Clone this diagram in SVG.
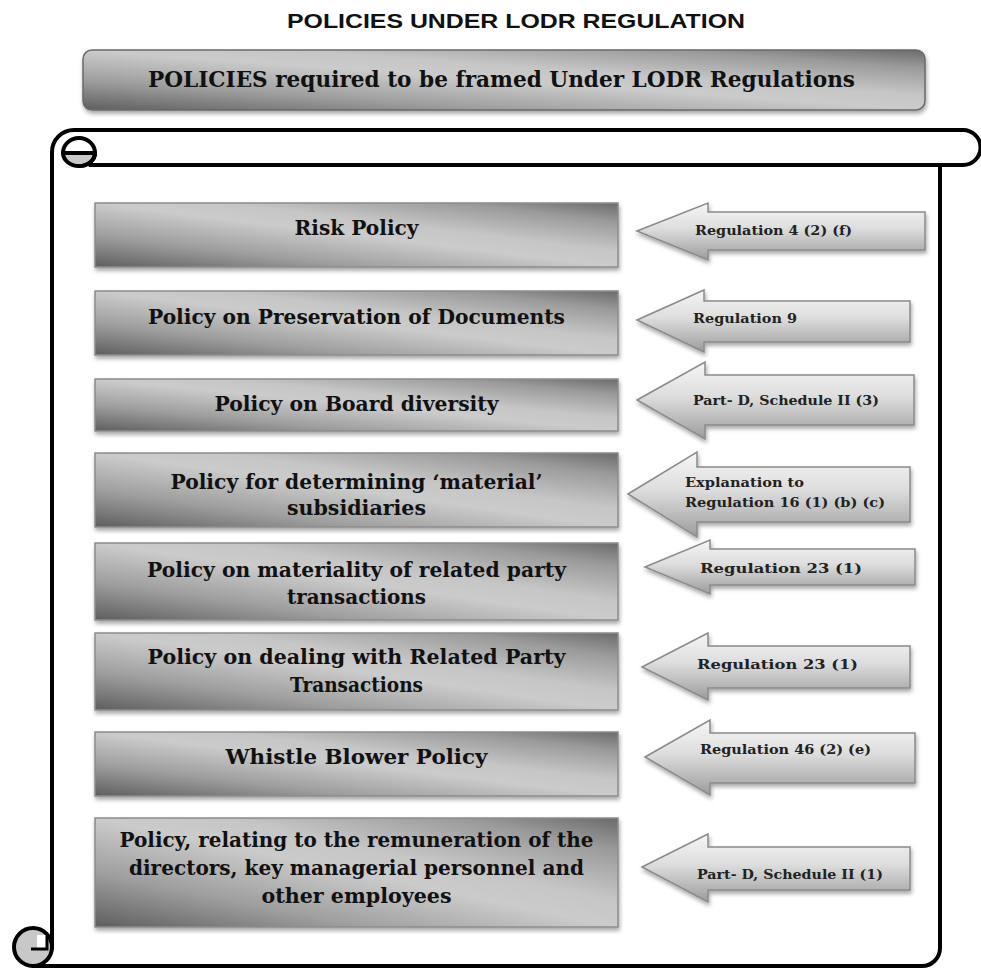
<svg xmlns="http://www.w3.org/2000/svg" width="981" height="972" viewBox="0 0 981 972">
<defs>
  <linearGradient id="boxGrad" x1="0" y1="1" x2="1" y2="0">
    <stop offset="0" stop-color="#5e5e5e"/>
    <stop offset="0.25" stop-color="#9e9e9e"/>
    <stop offset="0.5" stop-color="#cbcbcb"/>
    <stop offset="0.62" stop-color="#c6c6c6"/>
    <stop offset="0.85" stop-color="#9a9a9a"/>
    <stop offset="1" stop-color="#6a6a6a"/>
  </linearGradient>
  <linearGradient id="arrowGrad" x1="0" y1="0" x2="0" y2="1">
    <stop offset="0" stop-color="#f6f6f6"/>
    <stop offset="0.45" stop-color="#dddddd"/>
    <stop offset="1" stop-color="#9c9c9c"/>
  </linearGradient>
  <filter id="shadow" x="-5%" y="-10%" width="110%" height="130%">
    <feDropShadow dx="1" dy="3" stdDeviation="2" flood-color="#000" flood-opacity="0.35"/>
  </filter>
</defs>
<style>
  .title { font-family: "Liberation Sans", Arial, sans-serif; font-weight: bold; font-size: 20px; fill: #111; }
  .hdr { font-family: "DejaVu Serif", "Liberation Serif", serif; font-weight: bold; font-size: 23px; fill: #111; }
  .box { fill: url(#boxGrad); stroke: #8c8c8c; stroke-width: 1.5; filter: url(#shadow); }
  .btxt { font-family: "DejaVu Serif", "Liberation Serif", serif; font-weight: bold; font-size: 20px; fill: #111; text-anchor: middle; }
  .arrow { fill: url(#arrowGrad); stroke: #8a8a8a; stroke-width: 1.5; filter: url(#shadow); }
  .atxt { font-family: "DejaVu Serif", "Liberation Serif", serif; font-weight: bold; font-size: 13px; fill: #222; }
  .scroll { fill: none; stroke: #000; stroke-width: 4; stroke-linejoin: round; stroke-linecap: round; }
</style>

<rect x="0" y="0" width="981" height="972" fill="#ffffff"/>

<text class="title" x="287" y="28" textLength="458" lengthAdjust="spacingAndGlyphs">POLICIES UNDER LODR REGULATION</text>

<g id="header">
  <rect x="83" y="50" width="842" height="60" rx="9" fill="url(#boxGrad)" stroke="#6a6a6a" stroke-width="1.5" filter="url(#shadow)"/>
  <text class="hdr" x="148" y="87" textLength="707" lengthAdjust="spacingAndGlyphs">POLICIES required to be framed Under LODR Regulations</text>
</g>

<g id="scroll">
  <path class="scroll" d="M52,948 V152 A22,22 0 0 1 74,130 H963 A17.5,17.5 0 0 1 963,165 H90"/>
  <path d="M63,153 A16,13 0 0 0 95,153 Z" fill="#c8c8c8" stroke="#000" stroke-width="4" stroke-linejoin="round"/>
  <path class="scroll" d="M63,153 A16,15 0 0 1 95,153 A16,13 0 0 1 79,166"/>
  <path class="scroll" d="M940,165 V948 A18,18 0 0 1 922,966 H33"/>
  <circle cx="33" cy="947" r="19" fill="#c8c8c8" stroke="#000" stroke-width="4"/>
  <rect x="37" y="935" width="10" height="13" fill="#ffffff"/>
  <path d="M31,949 H47 V935" fill="none" stroke="#000" stroke-width="3"/>
  <path class="scroll" d="M52,930 V948"/>
</g>

<g id="policy-1">
  <rect class="box" x="95" y="203" width="523" height="64"/>
  <text class="btxt" x="356.5" y="235" textLength="124" lengthAdjust="spacingAndGlyphs">Risk Policy</text>
</g>
<g id="policy-2">
  <rect class="box" x="95" y="291" width="523" height="64"/>
  <text class="btxt" x="356.5" y="324" textLength="417" lengthAdjust="spacingAndGlyphs">Policy on Preservation of Documents</text>
</g>
<g id="policy-3">
  <rect class="box" x="95" y="379" width="523" height="52"/>
  <text class="btxt" x="356.5" y="411" textLength="284" lengthAdjust="spacingAndGlyphs">Policy on Board diversity</text>
</g>
<g id="policy-4">
  <rect class="box" x="95" y="453" width="523" height="74"/>
  <text class="btxt" x="356.5" y="489" textLength="372" lengthAdjust="spacingAndGlyphs">Policy for determining ‘material’</text>
  <text class="btxt" x="356.5" y="515" textLength="139" lengthAdjust="spacingAndGlyphs">subsidiaries</text>
</g>
<g id="policy-5">
  <rect class="box" x="95" y="543" width="523" height="77"/>
  <text class="btxt" x="356.5" y="577" textLength="419" lengthAdjust="spacingAndGlyphs">Policy on materiality of related party</text>
  <text class="btxt" x="356.5" y="604" textLength="139" lengthAdjust="spacingAndGlyphs">transactions</text>
</g>
<g id="policy-6">
  <rect class="box" x="95" y="633" width="523" height="77"/>
  <text class="btxt" x="356.5" y="664" textLength="418" lengthAdjust="spacingAndGlyphs">Policy on dealing with Related Party</text>
  <text class="btxt" x="356.5" y="692" textLength="133" lengthAdjust="spacingAndGlyphs">Transactions</text>
</g>
<g id="policy-7">
  <rect class="box" x="95" y="732" width="523" height="64"/>
  <text class="btxt" x="356.5" y="764" textLength="262" lengthAdjust="spacingAndGlyphs">Whistle Blower Policy</text>
</g>
<g id="policy-8">
  <rect class="box" x="95" y="818" width="523" height="109"/>
  <text class="btxt" x="356.5" y="847" textLength="474" lengthAdjust="spacingAndGlyphs">Policy, relating to the remuneration of the</text>
  <text class="btxt" x="356.5" y="875" textLength="455" lengthAdjust="spacingAndGlyphs">directors, key managerial personnel and</text>
  <text class="btxt" x="356.5" y="903" textLength="190" lengthAdjust="spacingAndGlyphs">other employees</text>
</g>

<g id="connectors">
  <g id="reg-1">
    <path class="arrow" d="M637,231 L708,203 L708,212 L925,212 L925,250 L708,250 L708,260 Z"/>
    <text class="atxt" x="695" y="235" textLength="157" lengthAdjust="spacingAndGlyphs">Regulation 4 (2) (f)</text>
  </g>
  <g id="reg-2">
    <path class="arrow" d="M637,320 L704,290 L704,301 L910,301 L910,342 L704,342 L704,352 Z"/>
    <text class="atxt" x="693" y="323" textLength="104" lengthAdjust="spacingAndGlyphs">Regulation 9</text>
  </g>
  <g id="reg-3">
    <path class="arrow" d="M637,400 L705,362 L705,375 L914,375 L914,425 L705,425 L705,439 Z"/>
    <text class="atxt" x="693" y="405" textLength="186" lengthAdjust="spacingAndGlyphs">Part- D, Schedule II (3)</text>
  </g>
  <g id="reg-4">
    <path class="arrow" d="M628,494 L697,452 L697,467 L910,467 L910,522 L697,522 L697,537 Z"/>
    <text class="atxt" x="685" y="487" textLength="119" lengthAdjust="spacingAndGlyphs">Explanation to</text>
    <text class="atxt" x="685" y="507" textLength="200" lengthAdjust="spacingAndGlyphs">Regulation 16 (1) (b) (c)</text>
  </g>
  <g id="reg-5">
    <path class="arrow" d="M645,567 L710,540 L710,549 L915,549 L915,585 L710,585 L710,594 Z"/>
    <text class="atxt" x="700" y="573" textLength="162" lengthAdjust="spacingAndGlyphs">Regulation 23 (1)</text>
  </g>
  <g id="reg-6">
    <path class="arrow" d="M642,667 L708,633 L708,646 L910,646 L910,688 L708,688 L708,700 Z"/>
    <text class="atxt" x="697" y="669" textLength="161" lengthAdjust="spacingAndGlyphs">Regulation 23 (1)</text>
  </g>
  <g id="reg-7">
    <path class="arrow" d="M645,757 L710,720 L710,733 L915,733 L915,783 L710,783 L710,795 Z"/>
    <text class="atxt" x="700" y="754" textLength="171" lengthAdjust="spacingAndGlyphs">Regulation 46 (2) (e)</text>
  </g>
  <g id="reg-8">
    <path class="arrow" d="M642,867 L708,834 L708,847 L910,847 L910,890 L708,890 L708,902 Z"/>
    <text class="atxt" x="697" y="879" textLength="186" lengthAdjust="spacingAndGlyphs">Part- D, Schedule II (1)</text>
  </g>
</g>
</svg>
